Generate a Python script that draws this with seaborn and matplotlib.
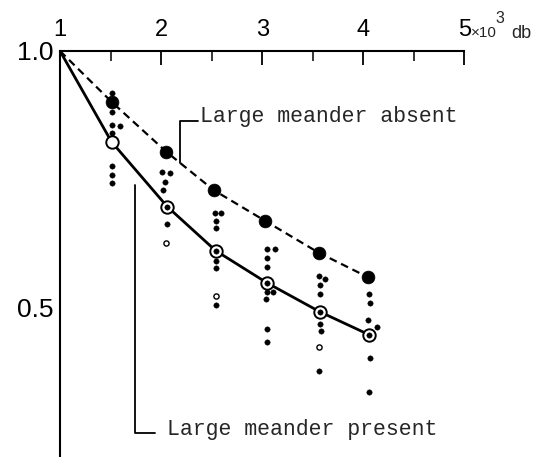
import matplotlib
matplotlib.use("Agg")
import matplotlib.pyplot as plt
import seaborn as sns
import pandas as pd

# ---- data ----
# curve points: start at (1, 1.0)
absent_x = [1.0, 1.51, 2.05, 2.52, 3.03, 3.56, 4.05]
absent_y = [1.0, 0.901, 0.804, 0.729, 0.669, 0.607, 0.559]
present_x = [1.0, 1.51, 2.06, 2.54, 3.05, 3.57, 4.06]
present_y = [1.0, 0.823, 0.697, 0.611, 0.548, 0.492, 0.447]

# individual observations (small filled dots)
dots_x = [1.51, 1.51, 1.51, 1.59, 1.51, 1.51, 1.51, 1.51,
          2.01, 2.09, 2.04, 2.02, 2.06,
          2.53, 2.59, 2.54, 2.54, 2.54, 2.54, 2.54,
          3.05, 3.13, 3.05, 3.05, 3.05, 3.11, 3.04, 3.05, 3.05,
          3.56, 3.62, 3.57, 3.57, 3.57, 3.58, 3.56,
          4.06, 4.07, 4.05, 4.14, 4.07, 4.06,
          2.06, 2.54, 3.05, 3.57, 4.06]
dots_y = [0.918, 0.882, 0.856, 0.853, 0.840, 0.776, 0.758, 0.742,
          0.765, 0.762, 0.745, 0.729, 0.663,
          0.684, 0.684, 0.669, 0.655, 0.590, 0.577, 0.505,
          0.614, 0.614, 0.596, 0.579, 0.531, 0.531, 0.517, 0.458, 0.434,
          0.562, 0.555, 0.544, 0.527, 0.468, 0.455, 0.377,
          0.527, 0.510, 0.475, 0.462, 0.401, 0.335,
          0.697, 0.611, 0.548, 0.492, 0.447]
# individual observations drawn as tiny rings
rings_x = [2.05, 2.54, 3.56]
rings_y = [0.625, 0.523, 0.424]

x_ticks = [1, 2, 3, 4, 5]
x_tick_labels = ["1", "2", "3", "4", "5"]
x_minor = [1.5, 2.5, 3.5, 4.5]
y_ticks = [0.5, 1.0]
y_tick_labels = ["0.5", "1.0"]
y_minor = [0.3, 0.4, 0.6, 0.7, 0.8, 0.9]

label_absent = "Large meander absent"
label_present = "Large meander present"

# ---- figure ----
sns.set_style("white")
plt.rcParams["font.family"] = ["Liberation Sans", "DejaVu Sans"]

fig = plt.figure(figsize=(5.4, 4.57), dpi=100)
ax = fig.add_axes([60 / 540, 0.0, 404.3 / 540, 1 - 51 / 457])

absent_df = pd.DataFrame({"x": absent_x, "y": absent_y})
present_df = pd.DataFrame({"x": present_x, "y": present_y})

sns.lineplot(data=absent_df, x="x", y="y", ax=ax, color="black", lw=1.6,
             linestyle=(0, (3.5, 2.2)), sort=False, zorder=2)
sns.lineplot(data=present_df, x="x", y="y", ax=ax, color="black", lw=2.0,
             sort=False, zorder=2)

sns.scatterplot(data=absent_df.iloc[1:], x="x", y="y", ax=ax, s=85,
                color="black", edgecolor="black", linewidth=0.5, zorder=4)
sns.scatterplot(data=present_df.iloc[1:], x="x", y="y", ax=ax, s=80,
                facecolor="white", edgecolor="black", linewidth=1.4, zorder=4)
sns.scatterplot(x=dots_x, y=dots_y, ax=ax, s=15, color="black",
                edgecolor="black", linewidth=0.3, zorder=5)
sns.scatterplot(x=rings_x, y=rings_y, ax=ax, s=14, facecolor="white",
                edgecolor="black", linewidth=1.0, zorder=5)

ax.set_xlim(1, 5)
ax.set_ylim(0.209, 1.0)
ax.set_xlabel("")
ax.set_ylabel("")

for s in ["right", "bottom"]:
    ax.spines[s].set_visible(False)
for s in ["left", "top"]:
    ax.spines[s].set_linewidth(1.5)
    ax.spines[s].set_color("black")

ax.xaxis.tick_top()
ax.set_xticks(x_ticks)
ax.set_xticklabels(x_tick_labels)
ax.set_xticks(x_minor, minor=True)
ax.set_yticks(y_ticks)
ax.set_yticklabels(y_tick_labels)
ax.set_yticks(y_minor, minor=True)
ax.tick_params(axis="x", which="major", direction="in", length=10, width=1.3,
               labelsize=17, pad=7, top=True, bottom=False,
               labeltop=True, labelbottom=False, colors="black")
ax.tick_params(axis="x", which="minor", direction="in", length=7, width=1.3,
               top=True, bottom=False)
ax.tick_params(axis="y", which="major", direction="in", length=14, width=1.3,
               labelsize=19, pad=5, colors="black")
ax.tick_params(axis="y", which="minor", direction="in", length=8, width=1.3)

# leader lines and labels
ax.annotate("", xy=(2.188, 0.782), xytext=(2.37, 0.864),
            arrowprops=dict(arrowstyle="-", lw=1.3, color="black",
                            shrinkA=0, shrinkB=0,
                            connectionstyle="angle,angleA=0,angleB=90,rad=0"))
ax.text(2.385, 0.862, label_absent, family="Liberation Mono", fontsize=15.5,
        va="baseline", ha="left")
ax.annotate("", xy=(1.743, 0.739), xytext=(1.94, 0.256),
            arrowprops=dict(arrowstyle="-", lw=1.3, color="black",
                            shrinkA=0, shrinkB=0,
                            connectionstyle="angle,angleA=0,angleB=90,rad=0"))
ax.text(2.055, 0.252, label_present, family="Liberation Mono", fontsize=15.5,
        va="baseline", ha="left")

# unit label next to the "5" tick label
fig.text(471 / 540, 1 - 37 / 457, "×10", fontsize=11, va="baseline", ha="left")
fig.text(495 / 540, 1 - 23 / 457, "3", fontsize=11.5, va="baseline", ha="left")
fig.text(511 / 540, 1 - 38 / 457, "db", fontsize=13, va="baseline", ha="left")

fig.savefig("out.png", dpi=100)
